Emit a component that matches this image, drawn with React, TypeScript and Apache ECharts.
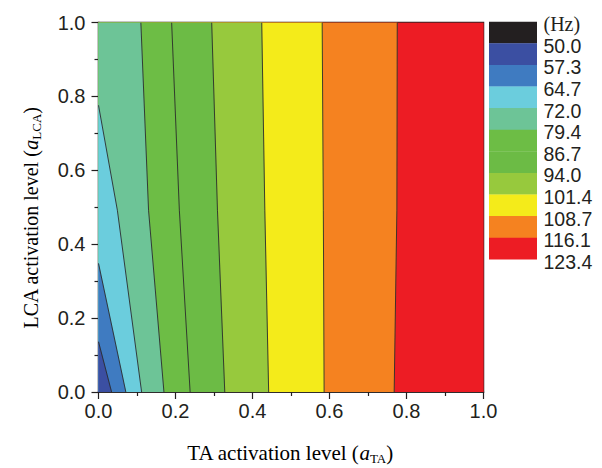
import React, { useEffect, useRef } from "react";
import * as echarts from "echarts";

// Legend boundary labels (top to bottom) and band colours
const legendLabels = ["(Hz)", "50.0", "57.3", "64.7", "72.0", "79.4", "86.7", "94.0", "101.4", "108.7", "116.1", "123.4"];
const bandColors = ["#231f20", "#3b4fa2", "#3f7bc1", "#6bcddd", "#6dc497", "#6dbd45", "#6cbb45", "#97c93d", "#f4eb1a", "#f58220", "#ed1c24"];

// Contour lines [aTA, aLCA], listed from the bottom edge upward
const c57 = [[0.034, 0], [0, 0.136]];
const c64 = [[0.071, 0], [0, 0.348]];
const c72 = [[0.112, 0], [0.049, 0.492], [0, 0.776]];
const c79 = [[0.170, 0], [0.130, 0.492], [0.110, 1]];
const c86 = [[0.238, 0], [0.210, 0.492], [0.190, 1]];
const c94 = [[0.328, 0], [0.309, 0.492], [0.294, 1]];
const c101 = [[0.442, 0], [0.432, 0.492], [0.424, 1]];
const c108 = [[0.586, 0], [0.584, 0.492], [0.581, 1]];
const c116 = [[0.768, 0], [0.775, 0.492], [0.776, 1]];

const contours = [c57, c64, c72, c79, c86, c94, c101, c108, c116];

export default function App() {
  const ref = useRef<HTMLDivElement>(null);
  useEffect(() => {
    if (!ref.current) return;
    const chart = echarts.init(ref.current, null, { renderer: "svg" });

    const leftOf = (c: number[][]) => {
      const pts = c.map((p) => p.slice());
      const last = c[c.length - 1];
      if (last[1] >= 1) pts.push([0, 1]);
      pts.push([0, 0]);
      return pts;
    };
    // painter's order: full red, then regions left of each contour from high to low
    const regions: { pts: number[][]; color: string }[] = [];
    regions.push({ pts: [[0, 0], [1, 0], [1, 1], [0, 1]], color: bandColors[10] });
    for (let k = contours.length - 1; k >= 0; k--) {
      regions.push({ pts: leftOf(contours[k]), color: bandColors[k + 1] });
    }

    const boxX = 489, boxW = 48, boxTop = 21.7, boxH = 21.6;
    const graphics: any[] = [];
    bandColors.forEach((col, i) => {
      graphics.push({ type: "rect", left: boxX, top: boxTop + i * boxH, shape: { width: boxW, height: boxH + 0.3 }, style: { fill: col } });
    });
    legendLabels.forEach((t, i) => {
      graphics.push({
        type: "text",
        left: 543.5,
        top: boxTop + i * boxH + 2.5 - 10,
        style: {
          text: t,
          fill: "#231f20",
          font: i === 0 ? "20px 'Liberation Serif'" : "19.5px 'Liberation Sans'",
        },
      });
    });
    const mkRich = (fs: number) => ({
      n: { fontFamily: "Liberation Serif", fontSize: fs, color: "#231f20", lineHeight: 24 },
      i: { fontFamily: "Liberation Serif", fontSize: fs, fontStyle: "italic", color: "#231f20", lineHeight: 24 },
      s: { fontFamily: "Liberation Serif", fontSize: 13, color: "#231f20", lineHeight: 12, verticalAlign: "bottom" },
    });
    graphics.push({
      type: "text",
      x: 290,
      y: 453,
      style: { text: "{n|TA activation level (}{i|a}{s|TA}{n|)}", rich: mkRich(21), align: "center", verticalAlign: "middle" },
    });
    graphics.push({
      type: "text",
      x: 31,
      y: 218,
      rotation: Math.PI / 2,
      style: { text: "{n|LCA activation level (}{i|a}{s|LCA}{n|)}", rich: mkRich(20), align: "center", verticalAlign: "middle" },
    });

    const axisCommon = {
      type: "value",
      min: 0,
      max: 1,
      interval: 0.2,
      splitLine: { show: false },
      axisLine: { show: true, lineStyle: { color: "#231f20", width: 1.5 } },
      axisTick: { show: true, inside: false, length: 7, lineStyle: { color: "#231f20", width: 1.2 } },
      minorTick: { show: true, splitNumber: 2, length: 4, lineStyle: { color: "#231f20", width: 1.2 } },
      axisLabel: {
        color: "#231f20",
        fontFamily: "Liberation Sans",
        fontSize: 20,
        formatter: (v: number) => v.toFixed(1),
      },
    };

    chart.setOption({
      animation: false,
      backgroundColor: "#ffffff",
      grid: { left: 98.5, right: 602 - 483.5, top: 22.5, bottom: 468 - 392, show: true, borderColor: "#231f20", borderWidth: 1.5, backgroundColor: "transparent" },
      xAxis: { ...axisCommon, axisLabel: { ...axisCommon.axisLabel, margin: 9 } },
      yAxis: { ...axisCommon, axisLabel: { ...axisCommon.axisLabel, margin: 13 } },
      series: [
        {
          type: "custom",
          clip: true,
          data: regions.map((_, i) => [i]),
          renderItem: (params: any, api: any) => {
            const r = regions[params.dataIndex];
            return {
              type: "polygon",
              shape: { points: r.pts.map((p) => api.coord(p)) },
              style: { fill: r.color, stroke: r.color, lineWidth: 0.3 },
            };
          },
          z: 1,
        },
        {
          type: "custom",
          clip: true,
          data: contours.map((_, i) => [i]),
          renderItem: (params: any, api: any) => {
            const c = contours[params.dataIndex];
            return {
              type: "polyline",
              shape: { points: c.map((p) => api.coord(p)) },
              style: { fill: null, stroke: "#2b2b2b", lineWidth: 0.9 },
            };
          },
          z: 2,
        },
      ],
      graphic: graphics,
    });
    return () => chart.dispose();
  }, []);
  return <div ref={ref} style={{ position: "fixed", left: 0, top: 0, width: 602, height: 468 }} />;
}
